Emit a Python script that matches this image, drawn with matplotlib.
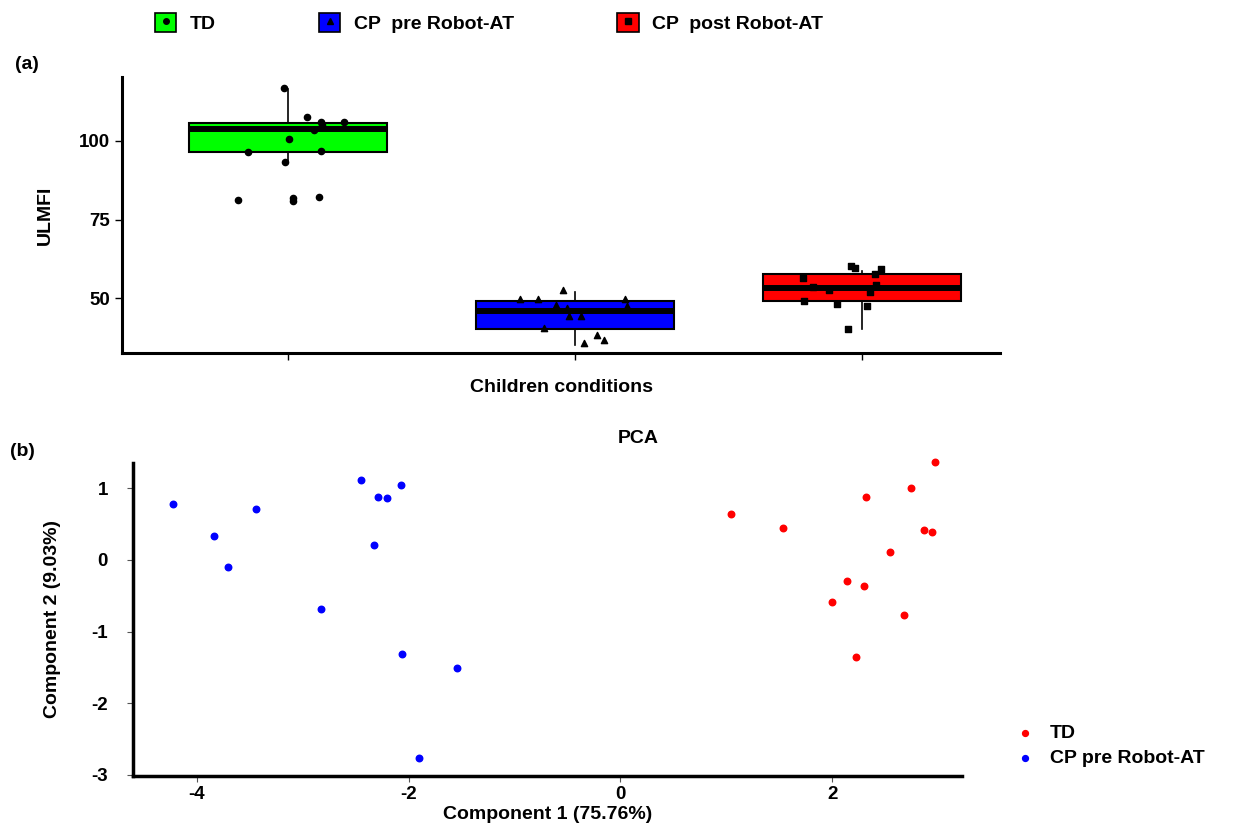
import matplotlib
matplotlib.use("Agg")
import matplotlib.pyplot as plt
from matplotlib.patches import Patch
from matplotlib.lines import Line2D
from matplotlib.legend_handler import HandlerTuple

plt.rcParams['font.family'] = ['Liberation Sans', 'DejaVu Sans']
plt.rcParams['font.weight'] = 'bold'
plt.rcParams['axes.unicode_minus'] = False

# ---- panel (a): ULMFI by condition ----
groups = ['TD', 'CP  pre Robot-AT', 'CP  post Robot-AT']
box_colors = ['#00ff00', '#0000ff', '#ff0000']
markers = ['o', '^', 's']

box_q1 = [96.5, 40.2, 49.1]
box_med = [103.8, 46.1, 53.4]
box_q3 = [105.8, 49.3, 57.6]
whisk_lo = [93.4, 35.3, 40.2]
whisk_hi = [116.6, 52.0, 58.7]

td_vals = [116.7, 107.6, 105.9, 105.1, 105.9, 103.5, 100.5, 96.6, 96.8, 93.4, 81.1, 82.0, 80.9, 82.2]
td_jit = [-0.016, 0.066, 0.113, 0.117, 0.193, 0.088, 0.001, -0.140, 0.115, -0.011, -0.175, 0.015, 0.015, 0.108]
pre_vals = [52.8, 49.9, 49.9, 49.8, 47.9, 47.7, 47.1, 44.5, 44.5, 40.5, 38.5, 36.9, 35.8]
pre_jit = [-0.043, -0.193, -0.130, 0.172, -0.069, 0.181, -0.031, -0.021, 0.018, -0.110, 0.074, 0.101, 0.029]
post_vals = [60.3, 59.5, 59.2, 57.6, 56.6, 53.5, 52.8, 54.1, 51.9, 49.3, 48.3, 47.7, 40.3]
post_jit = [-0.041, -0.025, 0.064, 0.043, -0.208, -0.173, -0.117, 0.046, 0.025, -0.205, -0.090, 0.015, -0.051]

# ---- panel (b): PCA scores ----
td_pc1 = [1.04, 1.53, 2.32, 2.74, 2.97, 2.86, 2.94, 2.54, 2.14, 2.30, 2.00, 2.68, 2.22]
td_pc2 = [0.64, 0.44, 0.88, 1.00, 1.36, 0.42, 0.39, 0.11, -0.29, -0.37, -0.59, -0.77, -1.36]
cp_pc1 = [-4.22, -3.84, -3.70, -3.44, -2.45, -2.29, -2.20, -2.07, -2.33, -2.83, -2.06, -1.54, -1.90]
cp_pc2 = [0.78, 0.34, -0.10, 0.71, 1.12, 0.88, 0.87, 1.04, 0.21, -0.68, -1.32, -1.51, -2.77]

fig = plt.figure(figsize=(12.35, 8.33), dpi=100)

ax1 = fig.add_axes([0.0988, 0.576, 0.711, 0.332])
stats = []
for i in range(3):
    stats.append({'med': box_med[i], 'q1': box_q1[i], 'q3': box_q3[i],
                  'whislo': whisk_lo[i], 'whishi': whisk_hi[i], 'fliers': []})
bp = ax1.bxp(stats, positions=[1, 2, 3], widths=0.69, patch_artist=True,
             showcaps=False, showfliers=False,
             boxprops=dict(edgecolor='black', linewidth=1.5),
             medianprops=dict(color='black', linewidth=4.3),
             whiskerprops=dict(color='black', linewidth=1.2))
for patch, c in zip(bp['boxes'], box_colors):
    patch.set_facecolor(c)

all_vals = [td_vals, pre_vals, post_vals]
all_jit = [td_jit, pre_jit, post_jit]
for i in range(3):
    xs = [i + 1 + j for j in all_jit[i]]
    ax1.scatter(xs, all_vals[i], marker=markers[i], s=20, color='black', zorder=5)

ax1.set_xlim(0.42, 3.48)
ax1.set_ylim(32.6, 120.4)
ax1.set_yticks([50, 75, 100])
ax1.set_xticks([1, 2, 3])
ax1.set_xticklabels([])
for s in ['top', 'right']:
    ax1.spines[s].set_visible(False)
for s in ['left', 'bottom']:
    ax1.spines[s].set_linewidth(2.2)
ax1.tick_params(axis='both', length=5, width=1, labelsize=13.5)
ax1.set_ylabel('ULMFI', fontsize=14, fontweight='bold', labelpad=18)
ax1.set_xlabel('Children conditions', fontsize=14, fontweight='bold', labelpad=10)

fig.text(0.012, 0.917, '(a)', fontsize=14, fontweight='bold')

# top legend with box-like keys
handles = []
for c, m in zip(box_colors, markers):
    handles.append((Patch(facecolor=c, edgecolor='black', linewidth=1.2),
                    Line2D([], [], marker=m, color='black', linestyle='None', markersize=4)))
fig.legend(handles, groups, loc='upper center', bbox_to_anchor=(0.396, 1.005), ncol=3,
           frameon=False, fontsize=14, handler_map={tuple: HandlerTuple(ndivide=1)},
           handlelength=1.1, handleheight=1.1, columnspacing=5.3, handletextpad=0.7)

# ---- panel (b) ----
ax2 = fig.add_axes([0.1077, 0.069, 0.671, 0.375])
ax2.scatter(td_pc1, td_pc2, color='#ff0000', s=22, label='TD', clip_on=False)
ax2.scatter(cp_pc1, cp_pc2, color='#0000ff', s=22, label='CP pre Robot-AT', clip_on=False)
ax2.set_xlim(-4.6, 3.22)
ax2.set_ylim(-3.01, 1.35)
ax2.set_xticks([-4, -2, 0, 2])
ax2.set_yticks([-3, -2, -1, 0, 1])
for s in ['top', 'right']:
    ax2.spines[s].set_visible(False)
for s in ['left', 'bottom']:
    ax2.spines[s].set_linewidth(2.5)
ax2.tick_params(axis='both', length=4, width=0.8, color='#555555', labelsize=13.5)
ax2.tick_params(axis='y', pad=14)
ax2.set_xlabel('Component 1 (75.76%)', fontsize=14, fontweight='bold', labelpad=2)
ax2.set_ylabel('Component 2 (9.03%)', fontsize=14, fontweight='bold', labelpad=22)
fig.text(0.517, 0.468, 'PCA', fontsize=14, fontweight='bold', ha='center')
fig.text(0.008, 0.452, '(b)', fontsize=14, fontweight='bold')

fig.legend(*ax2.get_legend_handles_labels(), loc='center left', bbox_to_anchor=(0.8, 0.105),
           frameon=False, fontsize=14, handletextpad=0.3, markerscale=0.9, labelspacing=0.4)

fig.savefig('out.png', dpi=100)
